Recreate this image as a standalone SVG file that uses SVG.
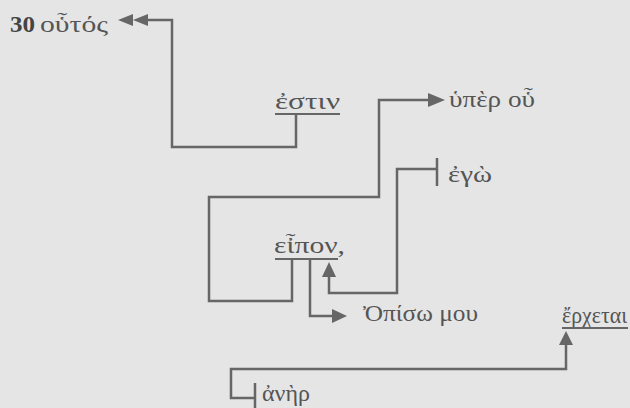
<svg xmlns="http://www.w3.org/2000/svg" width="630" height="408" viewBox="0 0 630 408">
<defs>
<style>
.t{font-family:"Liberation Serif","DejaVu Serif",serif;font-size:23px;fill:#555}
.c{fill:none;stroke:#666;stroke-width:2.5}
.u{stroke:#666;stroke-width:2}
.h{fill:#666}
</style>
</defs>
<rect width="630" height="408" fill="#e5e5e5"/>
<g id="connectors">
<path class="c" d="M296,114V147H172V20H148"/>
<path class="h" d="M148,14L133,20L148,26z M133,14L118,20L133,26z"/>
<path class="c" d="M292,259V301H209V197H379V100H430"/>
<path class="h" d="M428,93L445,100L428,107z"/>
<path class="c" d="M437,158V186 M437,169H397V293H329V275"/>
<path class="h" d="M322,277L329,262L336,277z"/>
<path class="c" d="M310,259V316H333"/>
<path class="h" d="M332,309L347,316L332,323z"/>
<path class="c" d="M566,344V369H231V398H255 M255,383V408"/>
<path class="h" d="M559,345L566,331L573,345z"/>
</g>
<g id="n-outos"><text x="10" y="32" class="t" style="font-weight:bold;fill:#444;font-size:24px" textLength="25" lengthAdjust="spacingAndGlyphs">30</text><text x="40" y="32" class="t" textLength="68" lengthAdjust="spacingAndGlyphs">οὗτός</text></g>
<g id="n-estin"><text x="275" y="109" class="t" textLength="65" lengthAdjust="spacingAndGlyphs">ἐστιν</text><line class="u" x1="275" y1="114" x2="340" y2="114"/></g>
<g id="n-huper"><text x="449" y="107" class="t" textLength="86" lengthAdjust="spacingAndGlyphs">ὑπὲρ οὗ</text></g>
<g id="n-ego"><text x="448" y="182" class="t" textLength="44" lengthAdjust="spacingAndGlyphs">ἐγὼ</text></g>
<g id="n-eipon"><text x="274" y="253" class="t" textLength="71" lengthAdjust="spacingAndGlyphs">εἶπον,</text><line class="u" x1="275" y1="259" x2="338" y2="259"/></g>
<g id="n-opiso"><text x="363" y="321" class="t" textLength="115" lengthAdjust="spacingAndGlyphs">Ὀπίσω μου</text></g>
<g id="n-erchetai"><text x="562" y="323" class="t" textLength="65" lengthAdjust="spacingAndGlyphs">ἔρχεται</text><line class="u" x1="562" y1="328" x2="628" y2="328"/></g>
<g id="n-aner"><text x="262" y="401" class="t" textLength="48" lengthAdjust="spacingAndGlyphs">ἀνὴρ</text></g>
</svg>
